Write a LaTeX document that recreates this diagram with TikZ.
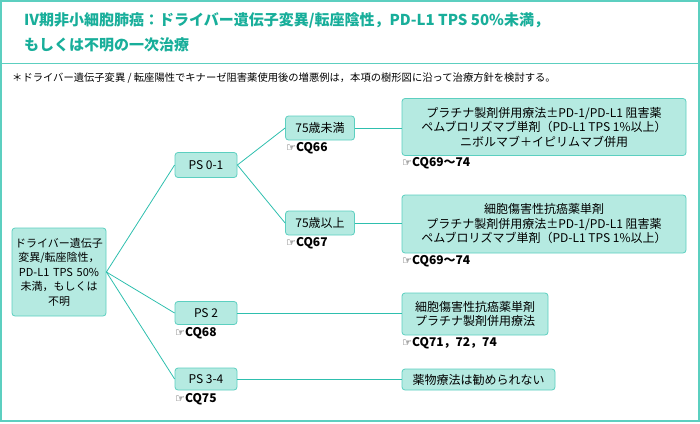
\documentclass[tikz,border=0pt]{standalone}
\usepackage{fontspec}
\setmainfont{Noto Sans CJK JP}
\newfontfamily\symfont{DejaVu Sans}
\definecolor{tealB}{HTML}{5CCFC0}
\definecolor{tealF}{HTML}{B5EAE1}
\definecolor{tealL}{HTML}{2EBFAE}
\definecolor{tealT}{HTML}{18AE9A}
\newcommand{\cq}[1]{{\symfont\fontsize{11}{12}\selectfont ☞}\textbf{#1}}
\begin{document}
\begin{tikzpicture}[x=1pt,y=-1pt,
  bx/.style={draw=tealB,fill=tealF,rounded corners=3pt,line width=0.8pt,font=\fontsize{12}{14.5}\selectfont,inner sep=2pt,align=center},
  ln/.style={draw=tealL,line width=0.8pt},
  lab/.style={anchor=north west,inner sep=0pt,font=\fontsize{12}{13}\selectfont}]
\useasboundingbox (0,0) rectangle (700,423);
\draw[tealB,line width=1.2pt] (1,1) rectangle (699,421);
\draw[tealB,line width=1pt] (1,63) -- (699,63);
\node[anchor=west,text=tealT,font=\fontsize{15}{25}\selectfont\bfseries,align=left,inner sep=0pt] (title) at (24,32)
 {Ⅳ期非小細胞肺癌：ドライバー遺伝子変異/転座陰性，PD-L1 TPS 50\%未満，\\もしくは不明の一次治療};
\node[anchor=west,inner sep=0pt,font=\fontsize{10.3}{12}\selectfont] (note) at (12,78)
 {＊ドライバー遺伝子変異 / 転座陽性でキナーゼ阻害薬使用後の増悪例は，本項の樹形図に沿って治療方針を検討する。};
\node[bx,font=\fontsize{11}{14.5}\selectfont,text width=90pt,minimum width=94pt,minimum height=88pt] (root) at (59,272)
 {ドライバー遺伝子\\変異/転座陰性，\\PD-L1 TPS 50\%\\未満，もしくは\\不明};
\node[bx,minimum width=62pt,minimum height=25pt] (p01) at (206,165) {PS 0-1};
\node[bx,minimum width=62pt,minimum height=23pt] (p2) at (206,313) {PS 2};
\node[bx,minimum width=62pt,minimum height=22pt] (p34) at (206,379) {PS 3-4};
\node[bx,minimum width=69pt,minimum height=24pt] (a1) at (320,128) {75歳未満};
\node[bx,minimum width=69pt,minimum height=24pt] (a2) at (320,223) {75歳以上};
\node[bx,minimum width=284pt,minimum height=57pt] (r1) at (544,127)
 {プラチナ製剤併用療法±PD-1/PD-L1 阻害薬\\ペムブロリズマブ単剤（PD-L1 TPS 1\%以上）\\ニボルマブ＋イピリムマブ併用};
\node[bx,minimum width=284pt,minimum height=58pt] (r2) at (544,224)
 {細胞傷害性抗癌薬単剤\\プラチナ製剤併用療法±PD-1/PD-L1 阻害薬\\ペムブロリズマブ単剤（PD-L1 TPS 1\%以上）};
\node[bx,minimum width=146pt,minimum height=42pt] (r3) at (475,314)
 {細胞傷害性抗癌薬単剤\\プラチナ製剤併用療法};
\node[bx,minimum width=153pt,minimum height=21pt] (r4) at (478.5,379.5) {薬物療法は勧められない};
\draw[ln] (root.east) -- (p01.west);
\draw[ln] (root.east) -- (p2.west);
\draw[ln] (root.east) -- (p34.west);
\draw[ln] (p01.east) -- (a1.west);
\draw[ln] (p01.east) -- (a2.west);
\draw[ln] (a1.east) -- (r1.west|-a1.east);
\draw[ln] (a2.east) -- (r2.west|-a2.east);
\draw[ln] (p2.east) -- (r3.west|-p2.east);
\draw[ln] (p34.east) -- (r4.west|-p34.east);
\node[lab] (c66) at (286,142) {\cq{CQ66}};
\node[lab] (c67) at (286,237) {\cq{CQ67}};
\node[lab] (c68) at (175,327) {\cq{CQ68}};
\node[lab] (c75) at (175,393) {\cq{CQ75}};
\node[lab] (c69a) at (402,157) {\cq{CQ69〜74}};
\node[lab] (c69b) at (402,255) {\cq{CQ69〜74}};
\node[lab] (c71) at (402,337) {\cq{CQ71，72，74}};
\end{tikzpicture}
\end{document}
